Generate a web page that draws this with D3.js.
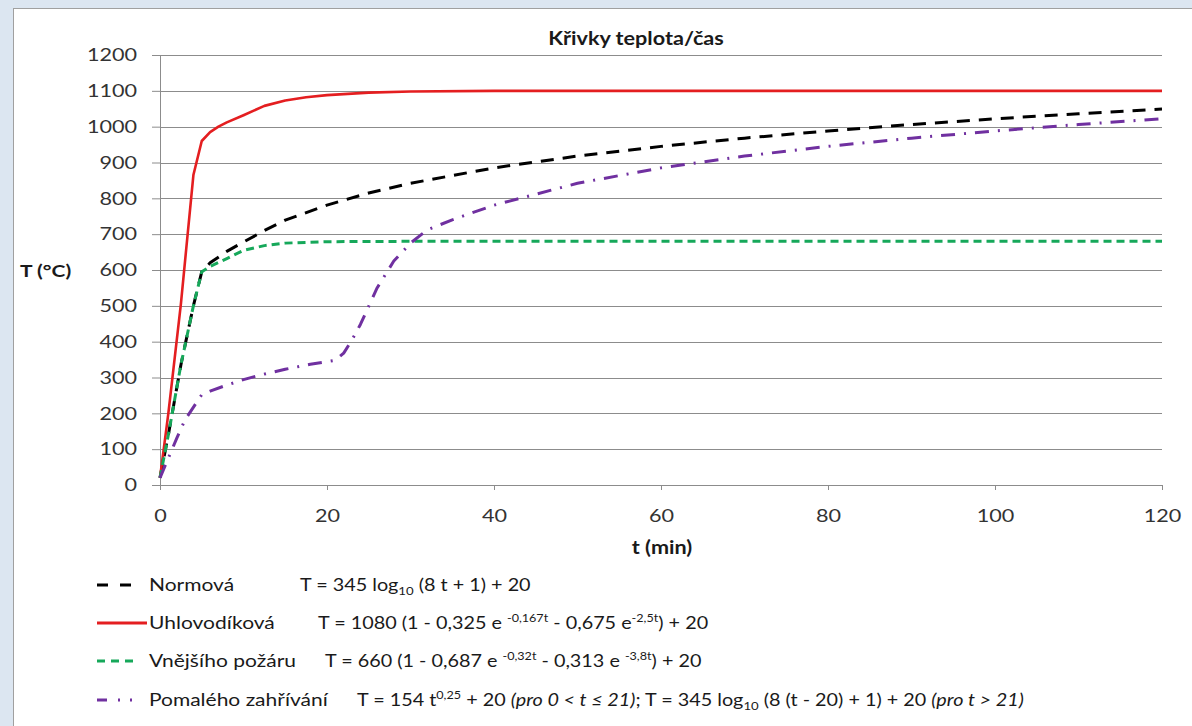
<!DOCTYPE html>
<html>
<head>
<meta charset="utf-8">
<script src="https://cdn.jsdelivr.net/npm/d3@7"></script>
<style>
  body { margin: 0; background: #dce6f1; }
  text { font-family: Lato, "Open Sans", sans-serif; }
</style>
</head>
<body>
<div id="chart"></div>
<script>
// hodnoty (t v min, T ve °C)
const normT = [0, 1, 2.5, 4, 5, 6, 8, 10, 12.5, 15, 20, 25, 30, 40, 50, 60, 70, 80, 90, 100, 110, 120];
const normV = [20, 140, 335, 500, 595, 620, 652, 678, 710, 739, 781, 815, 842, 885, 918, 945, 968, 988, 1006, 1022, 1036, 1049];

const uhlT = [0, 1, 2.5, 4, 5, 6, 7, 8, 10, 12.5, 15, 17.5, 20, 25, 30, 40, 60, 80, 100, 120];
const uhlV = [20, 200, 505, 865, 960, 985, 1000, 1012, 1032, 1058, 1073, 1082, 1088, 1095, 1098, 1100, 1100, 1100, 1100, 1100];

const vnejT = [0, 1, 2.5, 4, 5, 6, 8, 10, 12.5, 15, 20, 30, 60, 90, 120];
const vnejV = [20, 140, 335, 500, 595, 610, 632, 655, 668, 675, 679, 680, 680, 680, 680];

const pomT = [0, 1, 2, 3, 5, 6, 8, 10, 12, 15, 18, 21, 22, 23, 24, 26, 28, 30, 32, 35, 40, 50, 60, 70, 80, 90, 100, 110, 120];
const pomV = [20, 75, 130, 182, 252, 262, 279, 294, 307, 323, 337, 348, 368, 405, 448, 550, 625, 675, 712, 740, 781, 842, 885, 918, 945, 968, 988, 1006, 1022];

const xTicks = [0, 20, 40, 60, 80, 100, 120];
const yTicks = [0, 100, 200, 300, 400, 500, 600, 700, 800, 900, 1000, 1100, 1200];

const series = [
  { name: "Normová", t: normT, v: normV, color: "#000000", dash: "13,9", sample: "11,12", sx2: 134,
    formula: [["T = 345 log"], ["10", "sub"], [" (8 t + 1) + 20"]], fx: 300 },
  { name: "Uhlovodíková", t: uhlT, v: uhlV, color: "#e41e20", dash: null, sample: null, sx2: 147,
    formula: [["T = 1080 (1 - 0,325 e "], ["-0,167t", "sup"], [" - 0,675 e"], ["-2,5t", "sup"], [") + 20"]], fx: 318 },
  { name: "Vnějšího požáru", t: vnejT, v: vnejV, color: "#16a85a", dash: "8,5", sample: "8,6", sx2: 134,
    formula: [["T = 660 (1 - 0,687 e "], ["-0,32t", "sup"], [" - 0,313 e "], ["-3,8t", "sup"], [") + 20"]], fx: 325 },
  { name: "Pomalého zahřívání", t: pomT, v: pomV, color: "#7030a0", dash: "14,9,2,9", sample: "10,11,2,10,2,20", sx2: 133,
    formula: [["T = 154 t"], ["0,25", "sup"], [" + 20 "], ["(pro 0 < t ≤ 21)", "it"], ["; T = 345 log"], ["10", "sub"],
              [" (8 (t - 20) + 1) + 20 "], ["(pro t > 21)", "it"]], fx: 357 }
];

const width = 1192, height = 726;
const margin = { top: 55, right: 30, bottom: 241, left: 160 };
const w = width - margin.left - margin.right;
const h = height - margin.top - margin.bottom;
const stretch = "scale(1.2,1)";   // písmo v originálu je vodorovně roztažené

const svg = d3.select("#chart")
  .append("svg")
  .attr("width", width)
  .attr("height", height);

svg.append("rect")
  .attr("x", 0).attr("y", 0)
  .attr("width", width).attr("height", height)
  .attr("fill", "#dce6f1");

svg.append("rect")
  .attr("x", 13.5).attr("y", 8.5)
  .attr("width", width).attr("height", height)
  .attr("fill", "#ffffff")
  .attr("stroke", "#a0a0a0");

const g = svg.append("g")
  .attr("transform", "translate(" + margin.left + "," + margin.top + ")");

const xScale = d3.scaleLinear().domain([0, 120]).range([0, w]);
const yScale = d3.scaleLinear().domain([0, 1200]).range([h, 0]);

// mřížka
g.selectAll("line.grid")
  .data(yTicks.slice(1))
  .enter()
  .append("line")
  .attr("class", "grid")
  .attr("x1", 0).attr("x2", w)
  .attr("y1", (d) => Math.round(yScale(d)) + 0.5)
  .attr("y2", (d) => Math.round(yScale(d)) + 0.5)
  .attr("stroke", "#8c8c8c")
  .attr("stroke-width", 1);

const xAxis = d3.axisBottom(xScale).tickValues(xTicks).tickSize(5).tickFormat(d3.format("d"));
const yAxis = d3.axisLeft(yScale).tickValues(yTicks).tickSize(8).tickFormat(d3.format("d"));

const gx = g.append("g")
  .attr("transform", "translate(0," + h + ")")
  .call(xAxis);
const gy = g.append("g").call(yAxis);

[gx, gy].forEach((a) => {
  a.select(".domain").attr("stroke", "#8c8c8c");
  a.selectAll(".tick line").attr("stroke", "#8c8c8c");
  a.selectAll(".tick text")
    .attr("fill", "#333333")
    .style("font-size", "18px")
    .style("font-family", "Lato, sans-serif");
});
gx.selectAll(".tick text")
  .attr("y", 0).attr("dy", 0)
  .attr("transform", "translate(0,37) " + stretch);
gy.selectAll(".tick text")
  .attr("x", 0)
  .attr("transform", "translate(-23,0) " + stretch);

// křivky
const line = d3.line()
  .x((d) => xScale(d[0]))
  .y((d) => yScale(d[1]));

series.forEach((s) => {
  g.append("path")
    .datum(s.t.map((t, i) => [t, s.v[i]]))
    .attr("fill", "none")
    .attr("stroke", s.color)
    .attr("stroke-width", s.dash ? 3 : 2.6)
    .attr("stroke-dasharray", s.dash)
    .attr("stroke-linejoin", "round")
    .attr("d", line);
});

function label(x, y, size, bold) {
  return svg.append("text")
    .attr("transform", "translate(" + x + "," + y + ") " + stretch)
    .style("font-size", size + "px")
    .style("font-weight", bold ? "bold" : "normal")
    .attr("fill", "#1a1a1a");
}

// titulky
label(636, 45, 18, true).attr("text-anchor", "middle").text("Křivky teplota/čas");
label(662, 554, 18, true).attr("text-anchor", "middle").text("t (min)");
label(20, 277, 17.5, true).text("T (°C)");

// legenda
const legendY = [585, 623, 661, 700];
const shift = { sub: 4, sup: -7 };
series.forEach((s, i) => {
  const y = legendY[i];
  svg.append("line")
    .attr("x1", 97).attr("x2", s.sx2)
    .attr("y1", y).attr("y2", y)
    .attr("stroke", s.color)
    .attr("stroke-width", 3)
    .attr("stroke-dasharray", s.sample);

  label(149, y + 6, 17.5, false).text(s.name);

  const ft = label(s.fx, y + 6, 16.5, false);
  let cur = 0;
  s.formula.forEach((p) => {
    const off = shift[p[1]] || 0;
    const ts = ft.append("tspan").attr("dy", off - cur).text(p[0]);
    cur = off;
    if (p[1] === "sub") ts.style("font-size", "11px");
    if (p[1] === "sup") ts.style("font-size", "10.5px");
    if (p[1] === "it") ts.style("font-style", "italic");
  });
});
</script>
</body>
</html>
